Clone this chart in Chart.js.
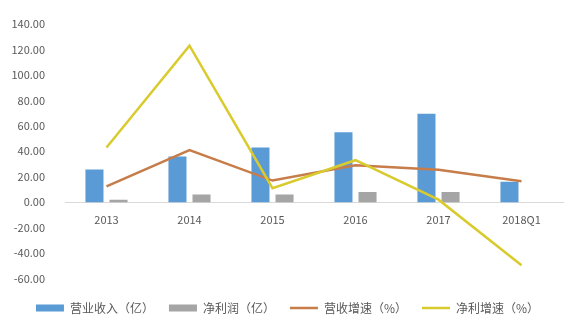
<!DOCTYPE html>
<html>
<head>
<meta charset="utf-8">
<script src="https://cdn.jsdelivr.net/npm/chart.js@4"></script>
<style>
  html, body { margin: 0; padding: 0; background: #fff; }
  #wrap { width: 584px; height: 333px; }
</style>
</head>
<body>
<div id="wrap"><canvas id="c"></canvas></div>
<script>
// years and the four series
const categories = ['2013', '2014', '2015', '2016', '2017', '2018Q1'];
const revenue = [25.8, 36.0, 43.0, 55.0, 69.5, 16.0];      // 营业收入（亿）
const netProfit = [2.0, 6.0, 6.0, 8.0, 8.0, 0];             // 净利润（亿）
const revenueGrowth = [12.5, 41.0, 17.0, 29.0, 25.5, 16.5]; // 营收增速（%）
const profitGrowth = [43.0, 123.0, 11.0, 33.0, 2.0, -49.5]; // 净利增速（%）
const yTicks = [-60, -40, -20, 0, 20, 40, 60, 80, 100, 120, 140];

const font = "'Noto Sans CJK SC', 'Noto Sans', sans-serif";

const ctx = document.getElementById('c');
new Chart(ctx, {
  type: 'bar',
  data: {
    labels: categories,
    datasets: [
      {
        label: '营业收入（亿）',
        data: revenue,
        backgroundColor: '#5B9BD5',
        borderWidth: 0,
        categoryPercentage: 0.58,
        barPercentage: 0.75,
        order: 3
      },
      {
        label: '净利润（亿）',
        data: netProfit,
        backgroundColor: '#A5A5A5',
        borderWidth: 0,
        categoryPercentage: 0.58,
        barPercentage: 0.75,
        order: 4
      },
      {
        type: 'line',
        label: '营收增速（%）',
        data: revenueGrowth,
        borderColor: '#C77D4A',
        backgroundColor: '#C77D4A',
        borderWidth: 2.5,
        pointRadius: 0,
        tension: 0,
        order: 2
      },
      {
        type: 'line',
        label: '净利增速（%）',
        data: profitGrowth,
        borderColor: '#D9CB2E',
        backgroundColor: '#D9CB2E',
        borderWidth: 2.5,
        pointRadius: 0,
        tension: 0,
        order: 1
      }
    ]
  },
  options: {
    responsive: true,
    maintainAspectRatio: false,
    animation: false,
    layout: { padding: { left: 12, right: 21, top: 24, bottom: 9 } },
    plugins: {
      tooltip: { enabled: false },
      legend: {
        position: 'bottom',
        // tiny blank title just pushes the legend row down a bit
        title: { display: true, text: ' ', font: { size: 2 }, padding: { top: 0, bottom: 6 } },
        labels: {
          usePointStyle: true,
          pointStyleWidth: 28,
          boxHeight: 7,
          padding: 15,
          color: '#595959',
          font: { family: font, size: 12 },
          sort: function(a, b) { return a.datasetIndex - b.datasetIndex; },
          generateLabels: function(chart) {
            const items = Chart.defaults.plugins.legend.labels.generateLabels(chart);
            items.forEach(function(it) {
              const ds = chart.data.datasets[it.datasetIndex];
              if (ds.type === 'line') {
                it.pointStyle = 'line';
                it.lineWidth = 2.5;
                it.strokeStyle = ds.borderColor;
              } else {
                it.pointStyle = 'rect';
                it.lineWidth = 0;
              }
            });
            return items;
          }
        }
      }
    },
    scales: {
      x: {
        position: { y: 0 },
        grid: { display: false },
        border: { display: true, color: '#D9D9D9', width: 1 },
        ticks: { color: '#595959', font: { family: font, size: 11 }, padding: 3 }
      },
      y: {
        min: -60,
        max: 140,
        afterBuildTicks: function(axis) {
          axis.ticks = yTicks.map(function(v) { return { value: v }; });
        },
        afterFit: function(axis) { axis.width = 53; },
        grid: { display: false },
        border: { display: false },
        ticks: {
          color: '#595959',
          padding: 12,
          font: { family: font, size: 11 },
          callback: function(v) { return Number(v).toFixed(2); }
        }
      }
    }
  }
});
</script>
</body>
</html>
